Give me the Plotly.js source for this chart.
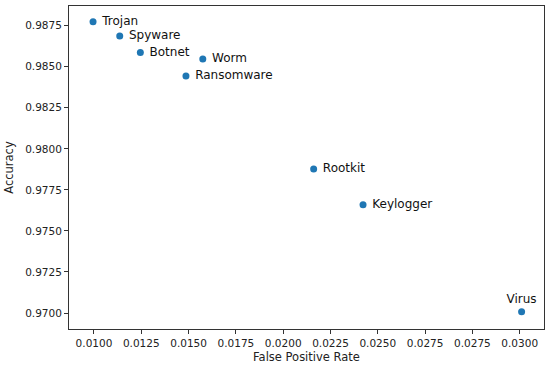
<!DOCTYPE html>
<html>
<head>
<meta charset="utf-8">
<script src="https://cdn.plot.ly/plotly-3.0.1.min.js"></script>
<style>html,body{margin:0;padding:0;background:#fff;}#chart{width:550px;height:368px;}</style>
</head>
<body>
<div id="chart"></div>
<script>
const names = ["Trojan","Spyware","Botnet","Worm","Ransomware","Rootkit","Keylogger","Virus"];
const fpr = [0.00995, 0.01136, 0.01245, 0.01575, 0.01486, 0.02161, 0.02422, 0.03260];
const accuracy = [0.98774, 0.98687, 0.98586, 0.98547, 0.98444, 0.97877, 0.97659, 0.97008];
const labelPos = ["middle right","middle right","middle right","middle right","middle right","middle right","middle right","top center"];
const xTickVals = [0.0100,0.0125,0.0150,0.0175,0.0200,0.0225,0.0250,0.0275,0.0300,0.0325];
const xTickText = ["0.0100","0.0125","0.0150","0.0175","0.0200","0.0225","0.0250","0.0275","0.0275","0.0300"];
const yTickVals = [0.9700,0.9725,0.9750,0.9775,0.9800,0.9825,0.9850,0.9875];

const trace = {
  type: "scatter", mode: "markers+text",
  x: fpr, y: accuracy, text: names, textposition: labelPos,
  texttemplate: labelPos.map(p => p === "middle right" ? " %{text}" : "%{text}"),
  marker: {color: "#1f77b4", size: 7},
  textfont: {family: "DejaVu Sans", size: 12, color: "#111"},
  cliponaxis: false, hoverinfo: "none"
};
const axisCommon = {
  showgrid: false, zeroline: false, showline: true, mirror: true,
  linecolor: "#333", linewidth: 1, ticks: "outside", ticklen: 4, tickwidth: 1, tickcolor: "#333",
  tickfont: {family: "DejaVu Sans", size: 10.5, color: "#222"}
};
const layout = {
  width: 550, height: 368,
  margin: {l: 69, r: 6, t: 6, b: 39},
  paper_bgcolor: "#fff", plot_bgcolor: "#fff",
  showlegend: false,
  font: {family: "DejaVu Sans", color: "#222"},
  xaxis: Object.assign({}, axisCommon, {
    range: [0.008679, 0.033784], tickmode: "array", tickvals: xTickVals, ticktext: xTickText,
    title: {text: "False Positive Rate", font: {size: 11.5, family: "DejaVu Sans"}, standoff: 5}
  }),
  yaxis: Object.assign({}, axisCommon, {
    range: [0.969027, 0.988698], tickmode: "array", tickvals: yTickVals, tickformat: ".4f",
    title: {text: "Accuracy", font: {size: 11.5, family: "DejaVu Sans"}, standoff: 9}
  })
};
Plotly.newPlot("chart", [trace], layout, {staticPlot: true, displayModeBar: false});
</script>
</body>
</html>
